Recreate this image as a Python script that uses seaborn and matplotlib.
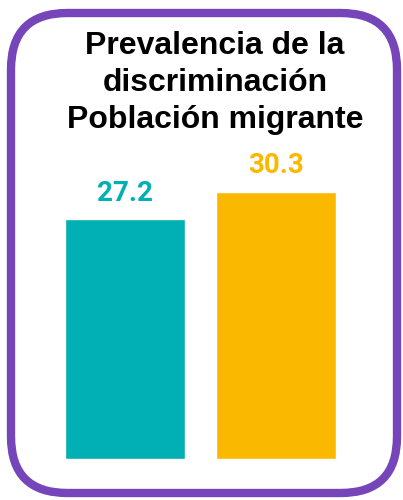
import matplotlib.pyplot as plt
import pandas as pd
import seaborn as sns
from matplotlib.patches import FancyBboxPatch

# data
groups = ["Grupo 1", "Grupo 2"]
values = [27.2, 30.3]
colors = ["#00B0B4", "#FAB800"]
title_lines = ["Prevalencia de la", "discriminación", "Población migrante"]

df = pd.DataFrame({"grupo": groups, "valor": values})

sns.set_style("white")
fig = plt.figure(figsize=(4.03, 5), dpi=100)

# axes placed so bars sit where they do in the original
ax = fig.add_axes([49.5 / 403, 41 / 500, 302 / 403, 352.9 / 500])
sns.barplot(data=df, x="grupo", y="valor", hue="grupo", palette=colors,
            width=0.8, legend=False, ax=ax, saturation=1)
ax.set_xlim(-0.5, 1.5)
ax.set_ylim(0, 40)
ax.axis("off")

for cont, col in zip(ax.containers, colors):
    ax.bar_label(cont, fmt="%.1f", padding=9, color=col, fontsize=20,
                 fontweight="bold", family=["Roboto", "DejaVu Sans"])

# title
for i, line in enumerate(title_lines):
    fig.text(215 / 403, 1 - (54 + 37 * i) / 500, line, ha="center", va="baseline",
             fontsize=23, fontweight="bold", color="black",
             family=["Liberation Sans", "DejaVu Sans"])

# purple rounded frame
frame = FancyBboxPatch((11 / 403, 7 / 500), 386 / 403, 480 / 500,
                       boxstyle="round,pad=0,rounding_size=0.14",
                       mutation_aspect=403 / 500, transform=fig.transFigure,
                       facecolor="none", edgecolor="#7545B9", linewidth=6)
fig.patches.append(frame)

plt.savefig("out.png", dpi=100)
